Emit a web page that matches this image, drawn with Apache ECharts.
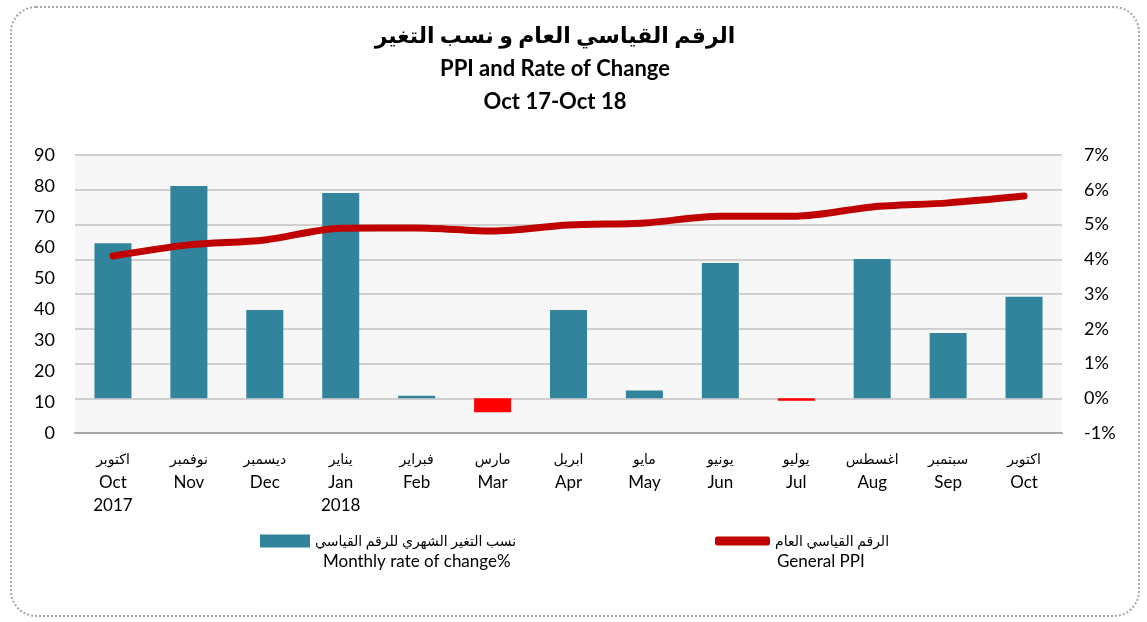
<!DOCTYPE html>
<html>
<head>
<meta charset="utf-8">
<script src="https://cdn.jsdelivr.net/npm/echarts@6/dist/echarts.min.js"></script>
<style>
    html, body { margin: 0; padding: 0; background: #fff; }
    #frame {
        position: absolute; left: 10px; top: 6px; width: 1126px; height: 607px;
        border: 2px dotted #a6a6a6; border-radius: 26px;
    }
    #chart { position: absolute; left: 0; top: 0; width: 1147px; height: 622px; }
</style>
</head>
<body>
<div id="frame"></div>
<div id="chart"></div>
<script>
// 月份 (阿拉伯文 / 英文 / 年份)
var monthsAr = ['اكتوبر', 'نوفمبر', 'ديسمبر', 'يناير', 'فبراير', 'مارس', 'ابريل', 'مايو', 'يونيو', 'يوليو', 'اغسطس', 'سبتمبر', 'اكتوبر'];
var monthsEn = ['Oct', 'Nov', 'Dec', 'Jan', 'Feb', 'Mar', 'Apr', 'May', 'Jun', 'Jul', 'Aug', 'Sep', 'Oct'];
var years = ['2017', '', '', '2018', '', '', '', '', '', '', '', '', ''];

// 月变化率 (%)
var monthlyRate = [4.46, 6.11, 2.54, 5.91, 0.07, -0.40, 2.54, 0.22, 3.89, -0.07, 4.01, 1.88, 2.92];
// 总指数
var generalPPI = [57.3, 60.9, 62.5, 66.3, 66.4, 65.4, 67.3, 68.0, 70.2, 70.2, 73.2, 74.5, 76.7];

var font = 'Lato, "DejaVu Sans", sans-serif';
var barColor = '#31849b';
var negColor = '#ff0000';
var lineColor = '#c00000';

var chart = echarts.init(document.getElementById('chart'));

var option = {
    animation: false,
    title: {
        text: 'الرقم القياسي العام و نسب التغير\nPPI and Rate of Change\nOct 17-Oct 18',
        left: 550,
        top: 14,
        textAlign: 'center',
        textStyle: {
            fontFamily: font,
            fontSize: 22,
            fontWeight: 'bold',
            color: '#000',
            lineHeight: 33
        }
    },
    grid: {
        left: 75,
        right: 85,
        top: 155,
        bottom: 189,
        show: true,
        backgroundColor: '#f7f7f7',
        borderWidth: 0
    },
    legend: [{
        left: 255,
        top: 529,
        itemWidth: 50,
        itemHeight: 13,
        icon: 'rect',
        selectedMode: false,
        textStyle: { fontFamily: font, fontSize: 14, color: '#000' },
        data: [{ name: 'نسب التغير الشهري للرقم القياسي', itemStyle: { color: barColor } }]
    }, {
        left: 710,
        top: 529,
        itemWidth: 55,
        itemHeight: 9,
        icon: 'roundRect',
        selectedMode: false,
        textStyle: { fontFamily: font, fontSize: 14, color: '#000' },
        data: [{ name: 'الرقم القياسي العام', itemStyle: { color: lineColor } }]
    }],
    graphic: [{
        type: 'text',
        left: 323,
        top: 553,
        style: { text: 'Monthly rate of change%', font: '17px ' + font, fill: '#000' }
    }, {
        type: 'text',
        left: 777,
        top: 553,
        style: { text: 'General PPI', font: '17px ' + font, fill: '#000' }
    }],
    xAxis: {
        type: 'category',
        data: monthsEn,
        axisLine: { show: true, lineStyle: { color: '#a6a6a6', width: 2 } },
        axisTick: { show: false },
        axisLabel: {
            interval: 0,
            margin: 15,
            formatter: function (v, i) {
                var s = '{ar|' + monthsAr[i] + '}\n{en|' + v + '}';
                if (years[i]) s += '\n{en|' + years[i] + '}';
                return s;
            },
            rich: {
                ar: { fontFamily: font, fontSize: 14, color: '#000', lineHeight: 23 },
                en: { fontFamily: font, fontSize: 17, color: '#000', lineHeight: 23 }
            }
        }
    },
    yAxis: [{
        type: 'value',
        min: 0,
        max: 90,
        interval: 10,
        axisLine: { show: false },
        axisTick: { show: false },
        splitLine: { show: false },
        axisLabel: { fontFamily: font, fontSize: 18, color: '#000', margin: 20 }
    }, {
        type: 'value',
        min: -1,
        max: 7,
        interval: 1,
        axisLine: { show: false },
        axisTick: { show: false },
        splitLine: { show: true, lineStyle: { color: '#d0d0d0', width: 2 } },
        axisLabel: {
            fontFamily: font, fontSize: 18, color: '#000', margin: 22,
            formatter: function (v) { return v + '%'; }
        }
    }],
    series: [{
        name: 'نسب التغير الشهري للرقم القياسي',
        type: 'bar',
        yAxisIndex: 1,
        barWidth: 37,
        itemStyle: {
            color: function (p) {
                return p.value < 0 ? negColor : barColor;
            }
        },
        data: monthlyRate
    }, {
        name: 'الرقم القياسي العام',
        type: 'line',
        yAxisIndex: 0,
        smooth: 0.3,
        symbol: 'none',
        lineStyle: { color: lineColor, width: 7, cap: 'round' },
        itemStyle: { color: lineColor },
        data: generalPPI
    }]
};

chart.setOption(option);
</script>
</body>
</html>
